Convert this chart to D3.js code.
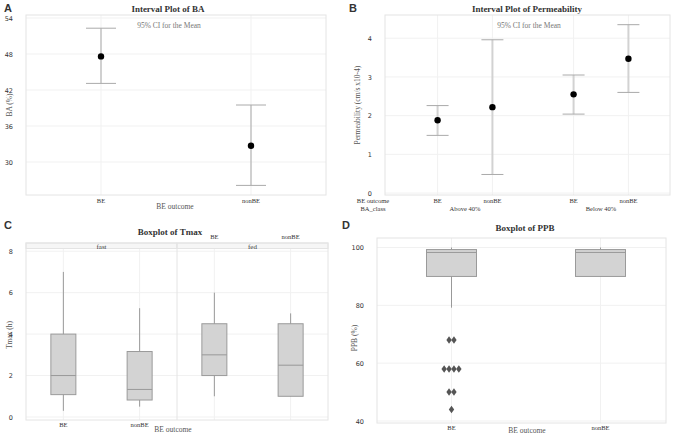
<!DOCTYPE html>
<html>
<head>
<meta charset="utf-8">
<script src="https://cdn.jsdelivr.net/npm/d3@7"></script>
<style>
  body { margin: 0; background: #fff; }
  text { font-family: "Liberation Serif", "Times New Roman", serif; }
  .tick text { font-family: "DejaVu Sans", sans-serif; font-size: 6.5px; fill: #333; }
</style>
</head>
<body>
<svg id="chart" width="677" height="436"></svg>
<script>
// ---- data ----
var baGroups = ["BE", "nonBE"];
var baMean = [47.6, 32.7];
var baLower = [43.1, 26.1];
var baUpper = [52.3, 39.5];
var baTicks = [30, 36, 42, 48, 54];

var permClasses = ["Above 40%", "Below 40%"];
var permGroups = ["BE", "nonBE"];
var permMean = [1.88, 2.22, 2.55, 3.47];
var permLower = [1.49, 0.48, 2.04, 2.60];
var permUpper = [2.26, 3.96, 3.05, 4.35];
var permTicks = [0, 1, 2, 3, 4];

var tmaxFacets = ["fast", "fed"];
var tmaxGroups = ["BE", "nonBE"];
var tmaxLow = [0.3, 0.5, 1.0, 1.0];
var tmaxQ1 = [1.08, 0.82, 2.0, 1.0];
var tmaxMedian = [2.0, 1.33, 3.0, 2.5];
var tmaxQ3 = [4.0, 3.16, 4.5, 4.5];
var tmaxHigh = [7.0, 5.25, 6.0, 5.0];
var tmaxTicks = [0, 2, 4, 6, 8];

var ppbGroups = ["BE", "nonBE"];
var ppbLow = [79.2, 90.0];
var ppbQ1 = [90.0, 90.0];
var ppbMedian = [98.3, 98.3];
var ppbQ3 = [99.3, 99.3];
var ppbHigh = [100, 100];
var ppbOutliers = [68, 68, 58, 58, 58, 58, 50, 50, 44];
var ppbTicks = [40, 60, 80, 100];

var svg = d3.select("#chart");
var gridColor = "#f1f1f1";
var frameColor = "#e4e4e4";

function frame(x0, x1, y0, y1) {
    svg.append("rect")
        .attr("x", x0).attr("y", y0)
        .attr("width", x1 - x0).attr("height", y1 - y0)
        .attr("fill", "none")
        .attr("stroke", frameColor)
        .attr("stroke-width", 1);
}

function yAxis(y, x0, x1, ticks) {
    svg.append("g")
        .attr("class", "grid")
        .selectAll("line").data(ticks).enter()
        .append("line")
        .attr("x1", x0).attr("x2", x1)
        .attr("y1", function(d){return y(d)})
        .attr("y2", function(d){return y(d)})
        .attr("stroke", gridColor);
    var g = svg.append("g")
        .attr("transform", "translate(" + (x0 - 1) + ",0)")
        .call(d3.axisLeft(y).tickValues(ticks).tickFormat(d3.format("d")).tickSize(0).tickPadding(12));
    g.select(".domain").remove();
}

function vGrid(xs, y0, y1) {
    svg.append("g")
        .selectAll("line").data(xs).enter()
        .append("line")
        .attr("x1", function(d){return d}).attr("x2", function(d){return d})
        .attr("y1", y0).attr("y2", y1)
        .attr("stroke", gridColor);
}

function label(x, y, txt, opts) {
    opts = opts || {};
    var t = svg.append("text")
        .attr("x", x).attr("y", y)
        .attr("text-anchor", opts.anchor || "middle")
        .attr("font-size", opts.size || 7)
        .attr("fill", opts.fill || "#333")
        .text(txt);
    if (opts.bold) t.attr("font-weight", "bold");
    if (opts.sans) t.style("font-family", "'Liberation Sans', Arial, sans-serif");
    if (opts.rotate) t.attr("transform", "rotate(-90," + x + "," + y + ")");
    return t;
}

function interval(x, y, mean, lo, hi, cap, lineColor, lineWidth) {
    svg.append("line")
        .attr("x1", x).attr("x2", x)
        .attr("y1", y(hi)).attr("y2", y(lo))
        .attr("stroke", lineColor).attr("stroke-width", lineWidth);
    [lo, hi].forEach(function(v){
        svg.append("line")
            .attr("x1", x - cap / 2).attr("x2", x + cap / 2)
            .attr("y1", y(v)).attr("y2", y(v))
            .attr("stroke", "#aaa").attr("stroke-width", 1);
    });
    svg.append("circle")
        .attr("cx", x).attr("cy", y(mean))
        .attr("r", 3.2).attr("fill", "#000");
}

function box(x, y, w, low, q1, med, q3, high) {
    svg.append("line")
        .attr("x1", x).attr("x2", x)
        .attr("y1", y(high)).attr("y2", y(low))
        .attr("stroke", "#999").attr("stroke-width", 1);
    svg.append("rect")
        .attr("x", x - w / 2).attr("y", y(q3))
        .attr("width", w).attr("height", y(q1) - y(q3))
        .attr("fill", "#d3d3d3")
        .attr("stroke", "#9a9a9a").attr("stroke-width", 1);
    svg.append("line")
        .attr("x1", x - w / 2).attr("x2", x + w / 2)
        .attr("y1", y(med)).attr("y2", y(med))
        .attr("stroke", "#999").attr("stroke-width", 1);
}

// ---- A: Interval plot of BA ----
(function() {
    var x0 = 26, x1 = 326, y0 = 15, y1 = 195;
    var y = d3.scaleLinear().domain([24.5, 54.5]).range([y1, y0]);
    var x = d3.scalePoint().domain(baGroups).range([x0, x1]).padding(0.5);
    vGrid(baGroups.map(x), y0, y1);
    yAxis(y, x0, x1, baTicks);
    frame(x0, x1, y0, y1);
    baGroups.forEach(function(g, i){
        interval(x(g), y, baMean[i], baLower[i], baUpper[i], 30, "#a8a8a8", 1);
        label(x(g), 203, g, {size: 6.5});
    });
    label(8, 12, "A", {size: 11, bold: true, sans: true});
    label(168, 12, "Interval Plot of BA", {size: 9, bold: true});
    label(169, 28, "95% CI for the Mean", {size: 7.5, fill: "#777"});
    label(175, 209, "BE outcome", {size: 7.5, fill: "#555"});
    label(12, 105, "BA (%)", {size: 7.5, fill: "#555", rotate: true});
})();

// ---- B: Interval plot of Permeability ----
(function() {
    var x0 = 385, x1 = 670, y0 = 15, y1 = 195;
    var y = d3.scaleLinear().domain([-0.05, 4.6]).range([y1, y0]);
    var outer = d3.scaleBand().domain(permClasses).range([397, 669]);
    var inner = d3.scalePoint().domain(permGroups).range([0, outer.bandwidth()]).padding(0.74);
    var xs = [];
    permClasses.forEach(function(c){
        permGroups.forEach(function(g){ xs.push(outer(c) + inner(g)); });
    });
    vGrid(xs, y0, y1);
    yAxis(y, x0, x1, permTicks);
    frame(x0, x1, y0, y1);
    xs.forEach(function(xv, i){
        interval(xv, y, permMean[i], permLower[i], permUpper[i], 22, "#d2d2d2", 2);
        label(xv, 203, permGroups[i % 2], {size: 6.5});
    });
    permClasses.forEach(function(c){
        label(outer(c) + outer.bandwidth() / 2, 211, c, {size: 6.5});
    });
    label(373, 203, "BE outcome", {size: 6.5});
    label(373, 211, "BA_class", {size: 6.5});
    label(353, 12, "B", {size: 11, bold: true, sans: true});
    label(527, 12, "Interval Plot of Permeability", {size: 9, bold: true});
    label(529, 28, "95% CI for the Mean", {size: 7.5, fill: "#777"});
    label(360, 105, "Permeability (cm/s x10-4)", {size: 7.5, fill: "#555", rotate: true});
})();

// ---- C: Boxplot of Tmax ----
(function() {
    var x0 = 26, x1 = 328, y0 = 243, y1 = 420, stripH = 5.5;
    var y = d3.scaleLinear().domain([-0.144, 8.13]).range([y1, y0 + stripH]);
    var facet = d3.scaleBand().domain(tmaxFacets).range([x0, x1]);
    var inner = d3.scalePoint().domain(tmaxGroups).range([0, facet.bandwidth()]).padding(0.49);
    var xs = [];
    tmaxFacets.forEach(function(f){
        tmaxGroups.forEach(function(g){ xs.push(facet(f) + inner(g)); });
    });
    vGrid(xs, y0 + stripH, y1);
    yAxis(y, x0, x1, tmaxTicks);
    // facet strips
    tmaxFacets.forEach(function(f){
        svg.append("rect")
            .attr("x", facet(f)).attr("y", y0)
            .attr("width", facet.bandwidth()).attr("height", stripH)
            .attr("fill", "#f6f6f6").attr("stroke", frameColor);
        label(facet(f) + facet.bandwidth() / 2, y0 + 5.5, f, {size: 7, fill: "#444"});
    });
    frame(x0, x1, y0, y1);
    svg.append("line")
        .attr("x1", facet("fed")).attr("x2", facet("fed"))
        .attr("y1", y0).attr("y2", y1)
        .attr("stroke", frameColor);
    xs.forEach(function(xv, i){
        box(xv, y, 25, tmaxLow[i], tmaxQ1[i], tmaxMedian[i], tmaxQ3[i], tmaxHigh[i]);
    });
    // group labels: fast ones below, fed ones above (as in source)
    tmaxGroups.forEach(function(g, j){
        label(xs[j], 427, g, {size: 6.5});
        label(xs[2 + j], 239, g, {size: 6.5});
    });
    label(8, 229, "C", {size: 11, bold: true, sans: true});
    label(170, 235, "Boxplot of Tmax", {size: 9, bold: true});
    label(173, 432, "BE outcome", {size: 7.5, fill: "#555"});
    label(12, 335, "Tmax (h)", {size: 7.5, fill: "#555", rotate: true});
})();

// ---- D: Boxplot of PPB ----
(function() {
    var x0 = 377, x1 = 666, y0 = 238, y1 = 423;
    var y = d3.scaleLinear().domain([39.3, 103.3]).range([y1, y0]);
    var x = d3.scalePoint().domain(ppbGroups).range([377, 675]).padding(0.5);
    vGrid(ppbGroups.map(x), y0, y1);
    yAxis(y, x0, x1, ppbTicks);
    frame(x0, x1, y0, y1);
    ppbGroups.forEach(function(g, i){
        box(x(g), y, 50, ppbLow[i], ppbQ1[i], ppbMedian[i], ppbQ3[i], ppbHigh[i]);
        label(x(g), 430, g, {size: 6.5});
    });
    // outliers stacked side by side per value
    var counts = d3.rollup(ppbOutliers, function(v){return v.length}, function(d){return d});
    var sym = d3.symbol().type(d3.symbolDiamond).size(16);
    counts.forEach(function(n, v){
        for (var k = 0; k < n; k++) {
            var dx = (k - (n - 1) / 2) * 4.9;
            svg.append("path")
                .attr("d", sym)
                .attr("transform", "translate(" + (x("BE") + dx) + "," + y(v) + ") scale(1.25,1)")
                .attr("fill", "#555");
        }
    });
    label(346, 229, "D", {size: 11, bold: true, sans: true});
    label(525, 231, "Boxplot of PPB", {size: 9, bold: true});
    label(527, 433, "BE outcome", {size: 7.5, fill: "#555"});
    label(357, 338, "PPB (%)", {size: 7.5, fill: "#555", rotate: true});
})();
</script>
</body>
</html>
